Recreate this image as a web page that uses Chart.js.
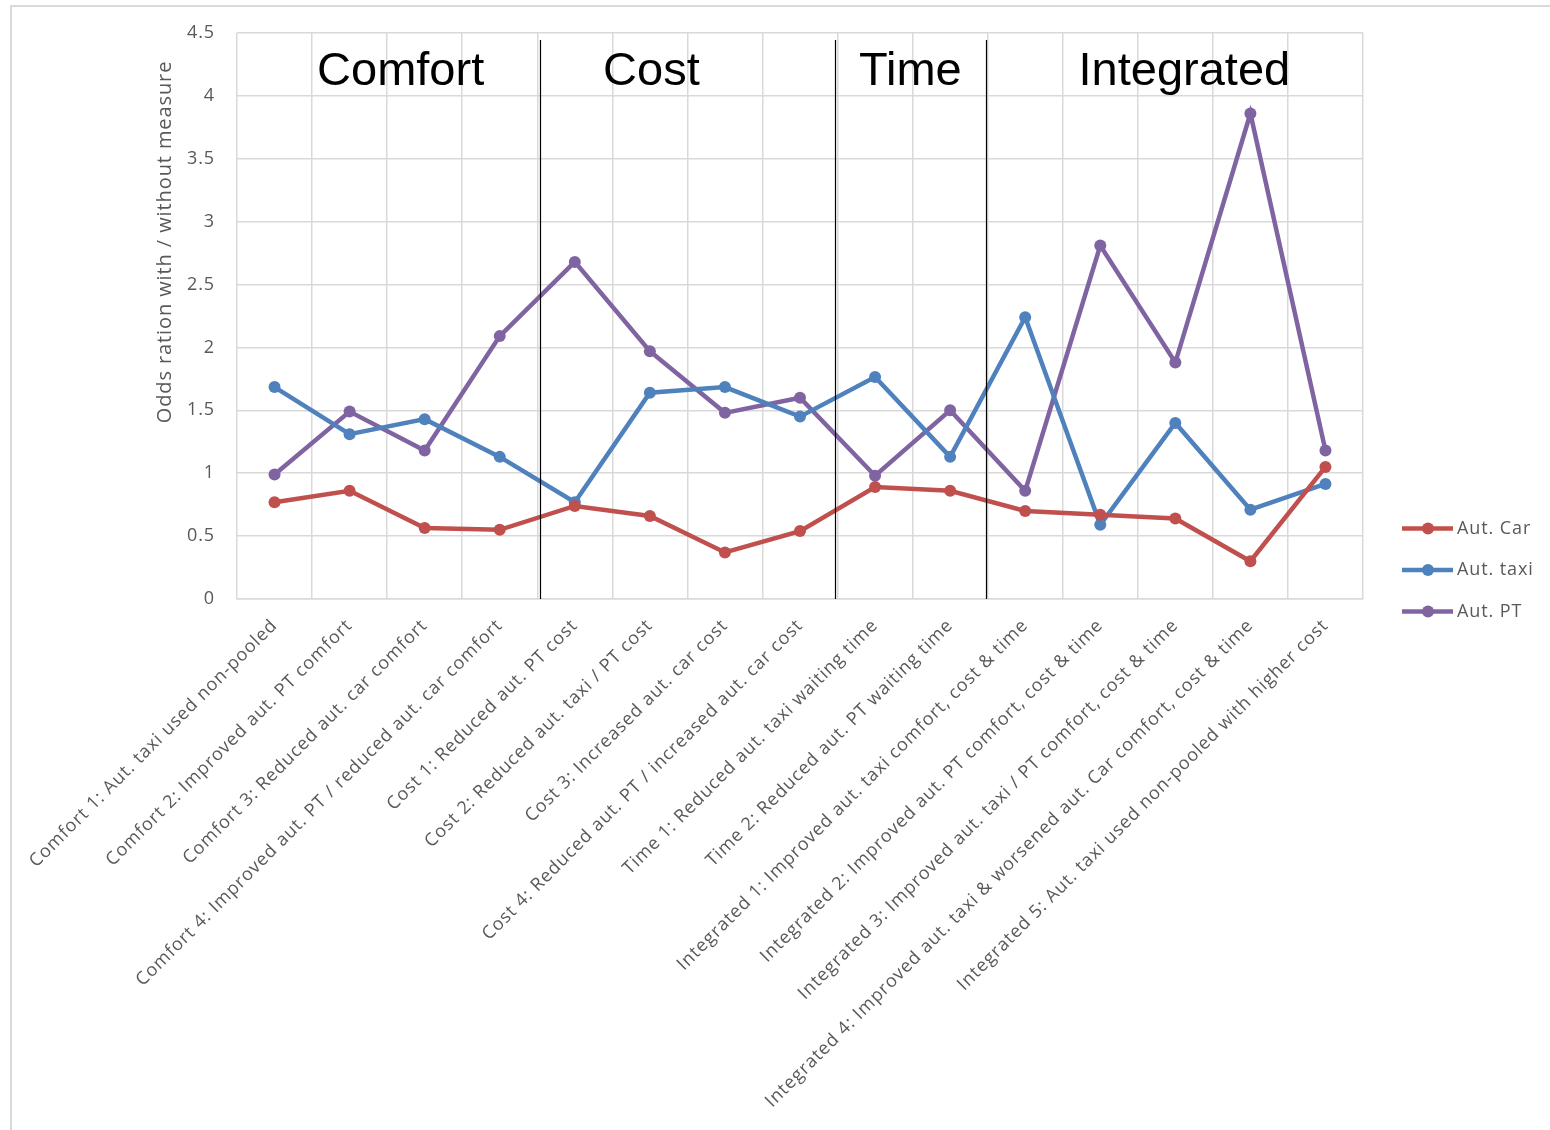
<!DOCTYPE html>
<html>
<head>
    <title>Odds ratio by measure</title>
    <script src="https://cdn.jsdelivr.net/npm/chart.js"></script>
    <style>
        html, body { margin: 0; padding: 0; background: #fff; }
        #wrap { position: relative; width: 1550px; height: 1130px; }
    </style>
</head>
<body>
<div id="wrap">
    <canvas id="oddsChart" width="1550" height="1130"></canvas>
</div>
<script>
    const measures = [
        'Comfort 1: Aut. taxi used non-pooled',
        'Comfort 2: Improved aut. PT comfort',
        'Comfort 3: Reduced aut. car comfort',
        'Comfort 4: Improved aut. PT / reduced aut. car comfort',
        'Cost 1: Reduced aut. PT cost',
        'Cost 2: Reduced aut. taxi / PT cost',
        'Cost 3: Increased aut. car cost',
        'Cost 4: Reduced aut. PT / increased aut. car cost',
        'Time 1: Reduced aut. taxi waiting time',
        'Time 2: Reduced aut. PT waiting time',
        'Integrated 1: Improved aut. taxi comfort, cost & time',
        'Integrated 2: Improved aut. PT comfort, cost & time',
        'Integrated 3: Improved aut. taxi / PT comfort, cost & time',
        'Integrated 4: Improved aut. taxi & worsened aut. Car comfort, cost & time',
        'Integrated 5: Aut. taxi used non-pooled with higher cost'
    ];
    const autCar  = [0.77, 0.86, 0.565, 0.55, 0.74, 0.66, 0.37, 0.54, 0.89, 0.86, 0.70, 0.67, 0.64, 0.30, 1.05];
    const autTaxi = [1.685, 1.31, 1.43, 1.13, 0.77, 1.64, 1.685, 1.45, 1.765, 1.13, 2.24, 0.59, 1.40, 0.71, 0.915];
    const autPT   = [0.99, 1.49, 1.18, 2.09, 2.68, 1.97, 1.48, 1.60, 0.98, 1.50, 0.86, 2.81, 1.88, 3.86, 1.18];
    const yTicks  = [0, 0.5, 1, 1.5, 2, 2.5, 3, 3.5, 4, 4.5];

    // groups of measures: label, label position (category units), dividers between groups
    const groupNames = ['Comfort', 'Cost', 'Time', 'Integrated'];
    const groupLabelAt = [1.68, 5.02, 8.47, 12.12];
    const groupDividers = [3.53, 7.47, 9.48];

    const tickFont = '"Open Sans", sans-serif';
    const grey = '#595959';

    // section labels, dividers, axis title, legend and frame
    const extras = {
        id: 'extras',
        beforeDraw(chart) {
            const ctx = chart.ctx;
            // the office-style text is spaced a bit wider than Open Sans
            ctx.letterSpacing = '0.9px';
            ctx.save();
            ctx.strokeStyle = '#d9d9d9';
            ctx.lineWidth = 2;
            ctx.beginPath();
            ctx.moveTo(11, 1130);
            ctx.lineTo(11, 6);
            ctx.lineTo(1550, 6);
            ctx.stroke();
            ctx.restore();
        },
        afterDatasetsDraw(chart) {
            const ctx = chart.ctx;
            const x = chart.scales.x, y = chart.scales.y;
            const area = chart.chartArea;
            ctx.save();
            ctx.strokeStyle = '#000';
            ctx.lineWidth = 1.2;
            groupDividers.forEach(v => {
                const px = Math.round(x.getPixelForValue(v)) + 0.5;
                ctx.beginPath();
                ctx.moveTo(px, area.top + 7);
                ctx.lineTo(px, area.bottom);
                ctx.stroke();
            });
            ctx.letterSpacing = '0px';
            ctx.fillStyle = '#000';
            ctx.font = '47px "Liberation Sans", Arial, sans-serif';
            ctx.textAlign = 'center';
            ctx.textBaseline = 'alphabetic';
            groupNames.forEach((name, i) => {
                ctx.fillText(name, x.getPixelForValue(groupLabelAt[i]), area.top + 52);
            });

            // y axis title
            ctx.letterSpacing = '0.9px';
            ctx.fillStyle = grey;
            ctx.font = '20px ' + tickFont;
            ctx.textAlign = 'center';
            ctx.textBaseline = 'middle';
            ctx.translate(area.left - 72, area.top + 209);
            ctx.rotate(-Math.PI / 2);
            ctx.fillText('Odds ration with / without measure', 0, 0);
            ctx.restore();

            // legend
            ctx.save();
            const lx = area.right + 39;
            chart.data.datasets.forEach((ds, i) => {
                const ly = y.getPixelForValue(0.56) + i * 41.5;
                ctx.strokeStyle = ds.borderColor;
                ctx.lineWidth = 4.5;
                ctx.beginPath();
                ctx.moveTo(lx, ly);
                ctx.lineTo(lx + 51, ly);
                ctx.stroke();
                ctx.fillStyle = ds.borderColor;
                ctx.beginPath();
                ctx.arc(lx + 26, ly, 6, 0, Math.PI * 2);
                ctx.fill();
                ctx.fillStyle = grey;
                ctx.font = '18px ' + tickFont;
                ctx.textAlign = 'left';
                ctx.textBaseline = 'middle';
                ctx.fillText(ds.label, lx + 55, ly);
            });
            ctx.restore();
        }
    };

    function series(label, data, color) {
        return {
            label: label,
            data: data,
            borderColor: color,
            backgroundColor: color,
            borderWidth: 4.5,
            pointRadius: 6,
            pointHoverRadius: 6,
            pointBorderWidth: 0,
            tension: 0,
            fill: false
        };
    }

    new Chart(document.getElementById('oddsChart'), {
        type: 'line',
        data: {
            labels: measures,
            datasets: [
                series('Aut. Car', autCar, '#C0504D'),
                series('Aut. taxi', autTaxi, '#4F81BD'),
                series('Aut. PT', autPT, '#8064A2')
            ]
        },
        options: {
            responsive: false,
            animation: false,
            layout: { padding: { top: 33, right: 187, left: 0, bottom: 0 } },
            plugins: {
                legend: { display: false },
                tooltip: { enabled: false }
            },
            scales: {
                x: {
                    offset: true,
                    grid: { color: '#d9d9d9', lineWidth: 1.5, drawTicks: false, offset: true },
                    border: { color: '#d9d9d9', width: 1.5 },
                    ticks: {
                        autoSkip: false,
                        maxRotation: 45,
                        minRotation: 45,
                        padding: 16,
                        color: grey,
                        font: { family: tickFont, size: 18 }
                    },
                    afterFit(scale) {
                        scale.height = 531;
                        scale.paddingLeft = 0;
                        scale.paddingRight = 0;
                    }
                },
                y: {
                    min: 0,
                    max: 4.5,
                    afterBuildTicks(scale) {
                        scale.ticks = yTicks.map(v => ({ value: v }));
                    },
                    grid: { color: '#d9d9d9', lineWidth: 1.5, drawTicks: false },
                    border: { display: false },
                    ticks: {
                        padding: 22,
                        color: grey,
                        font: { family: tickFont, size: 18 },
                        callback: v => String(v)
                    },
                    afterFit(scale) {
                        scale.width = 237;
                        scale.paddingTop = 0;
                        scale.paddingBottom = 0;
                    }
                }
            }
        },
        plugins: [extras]
    });
</script>
</body>
</html>
